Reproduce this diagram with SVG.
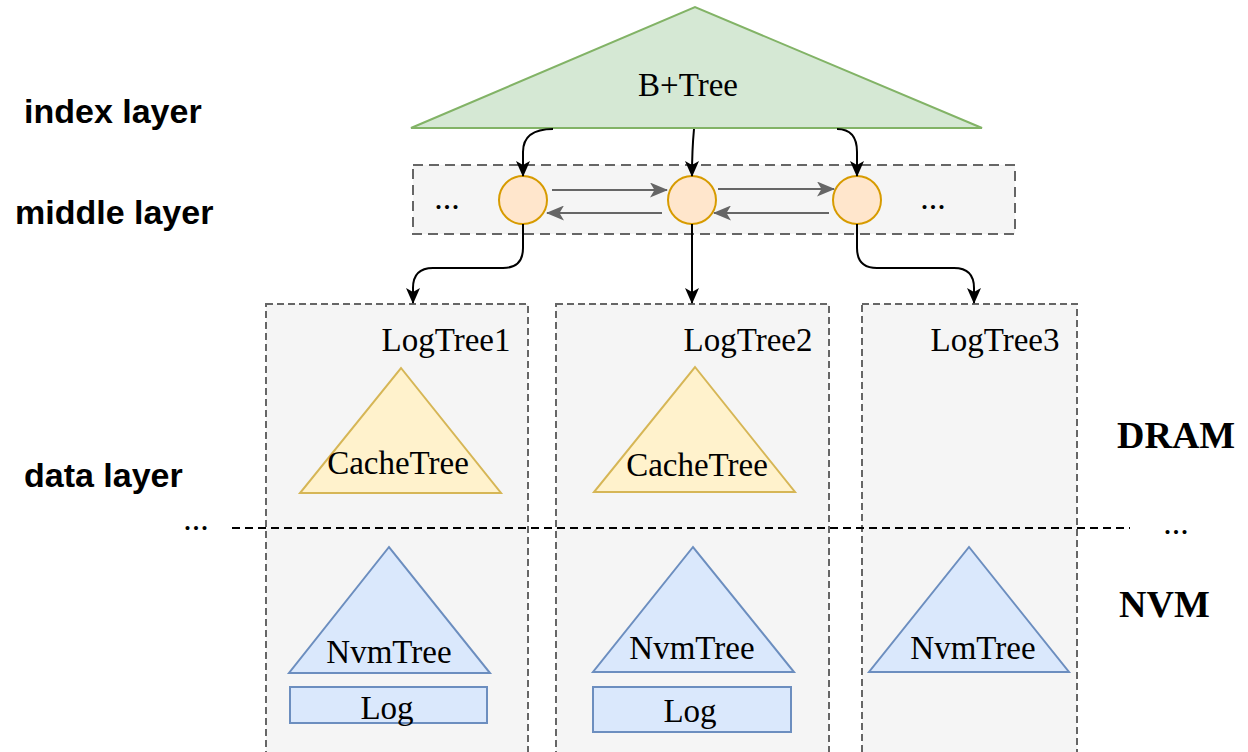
<svg xmlns="http://www.w3.org/2000/svg" width="1248" height="752" viewBox="0 0 1248 752">
<style>
.lbl{font-family:"Liberation Sans",Arial,sans-serif;font-weight:bold;font-size:34px;fill:#000}
.t{font-family:"Liberation Serif","Times New Roman",serif;font-size:33px;fill:#000;text-anchor:middle}
.mem{font-family:"Liberation Serif","Times New Roman",serif;font-weight:bold;font-size:38px;fill:#000}
.dots{font-family:"Liberation Serif","Times New Roman",serif;font-size:34px;fill:#000;text-anchor:middle}
.box{fill:#f5f5f5;stroke:#666;stroke-width:2;stroke-dasharray:7 4}
.cache{fill:#fff2cc;stroke:#d6b656;stroke-width:2}
.nvm{fill:#dae8fc;stroke:#6c8ebf;stroke-width:2}
.circ{fill:#ffe6cc;stroke:#d79b00;stroke-width:2}
.blk{fill:none;stroke:#000;stroke-width:2;marker-end:url(#ab)}
.gry{fill:none;stroke:#666;stroke-width:2;marker-end:url(#ag)}
</style>
<defs>
<marker id="ab" viewBox="0 0 16 14" refX="15" refY="7" markerWidth="16" markerHeight="14" orient="auto" markerUnits="userSpaceOnUse"><path d="M0,0 L16,7 L0,14 L4,7 Z" fill="#000"/></marker>
<marker id="ag" viewBox="0 0 18 15" refX="17" refY="7.5" markerWidth="18" markerHeight="15" orient="auto" markerUnits="userSpaceOnUse"><path d="M0,0 L18,7.5 L0,15 L4.5,7.5 Z" fill="#666"/></marker>
</defs>
<rect width="1248" height="752" fill="#fff"/>

<g id="labels">
<text class="lbl" x="24" y="123">index layer</text>
<text class="lbl" x="15" y="224">middle layer</text>
<text class="lbl" x="24" y="487">data layer</text>
<text class="mem" x="1117" y="448">DRAM</text>
<text class="mem" x="1119" y="617">NVM</text>
</g>

<g id="bplustree">
<polygon points="411,128 982,128 695,7" fill="#d5e8d4" stroke="#82b366" stroke-width="2"/>
<text class="t" x="688" y="96">B+Tree</text>
</g>

<g id="middle-layer">
<rect x="413" y="165" width="602" height="69" fill="#f5f5f5" stroke="#666" stroke-width="2" stroke-dasharray="10 6"/>
<text class="dots" x="447" y="209">...</text>
<text class="dots" x="933" y="209">...</text>
</g>
<g id="node1"><circle class="circ" cx="523" cy="200" r="24"/></g>
<g id="node2"><circle class="circ" cx="692" cy="200" r="24"/></g>
<g id="node3"><circle class="circ" cx="857" cy="200" r="24"/></g>

<g id="logtree1">
<rect class="box" x="266" y="304" width="262" height="460"/>
<text class="t" x="446" y="351">LogTree1</text>
<polygon class="cache" points="300,493 501,493 401,368"/>
<text class="t" x="398" y="474">CacheTree</text>
<polygon class="nvm" points="289,673 490,673 389,547"/>
<text class="t" x="389" y="663">NvmTree</text>
<rect class="nvm" x="290" y="687" width="197" height="36"/>
<text class="t" x="387" y="719">Log</text>
</g>

<g id="logtree2">
<rect class="box" x="556" y="304" width="273" height="460"/>
<text class="t" x="748" y="351">LogTree2</text>
<polygon class="cache" points="594,492 795,492 695,367"/>
<text class="t" x="697" y="476">CacheTree</text>
<polygon class="nvm" points="593,672 794,672 693,547"/>
<text class="t" x="692" y="659">NvmTree</text>
<rect class="nvm" x="593" y="687" width="198" height="45"/>
<text class="t" x="690" y="722">Log</text>
</g>

<g id="logtree3">
<rect class="box" x="862" y="304" width="215" height="460"/>
<text class="t" x="995" y="351">LogTree3</text>
<polygon class="nvm" points="869,672 1069,672 969,547"/>
<text class="t" x="973" y="659">NvmTree</text>
</g>

<g id="separator">
<line x1="232" y1="528" x2="1130" y2="528" stroke="#000" stroke-width="2" stroke-dasharray="8 5"/>
<text class="dots" x="196" y="530">...</text>
<text class="dots" x="1176" y="534">...</text>
</g>

<g id="connectors">
<path class="blk" d="M553,129 Q523,129 523,152 L523,176"/>
<path class="blk" d="M694,129 Q692,150 692,176"/>
<path class="blk" d="M837,129 Q857,129 857,152 L857,176"/>
<path class="blk" d="M523,224 L523,248 Q523,268 503,268 L433,268 Q413,268 413,288 L413,303"/>
<path class="blk" d="M692,224 L692,303"/>
<path class="blk" d="M857,224 L857,248 Q857,268 877,268 L954,268 Q974,268 974,288 L974,303"/>
<path class="gry" d="M552,190 L667,190"/>
<path class="gry" d="M718,189 L834,189"/>
<path class="gry" d="M662,213 L547,213"/>
<path class="gry" d="M829,213 L714,213"/>
</g>
</svg>
